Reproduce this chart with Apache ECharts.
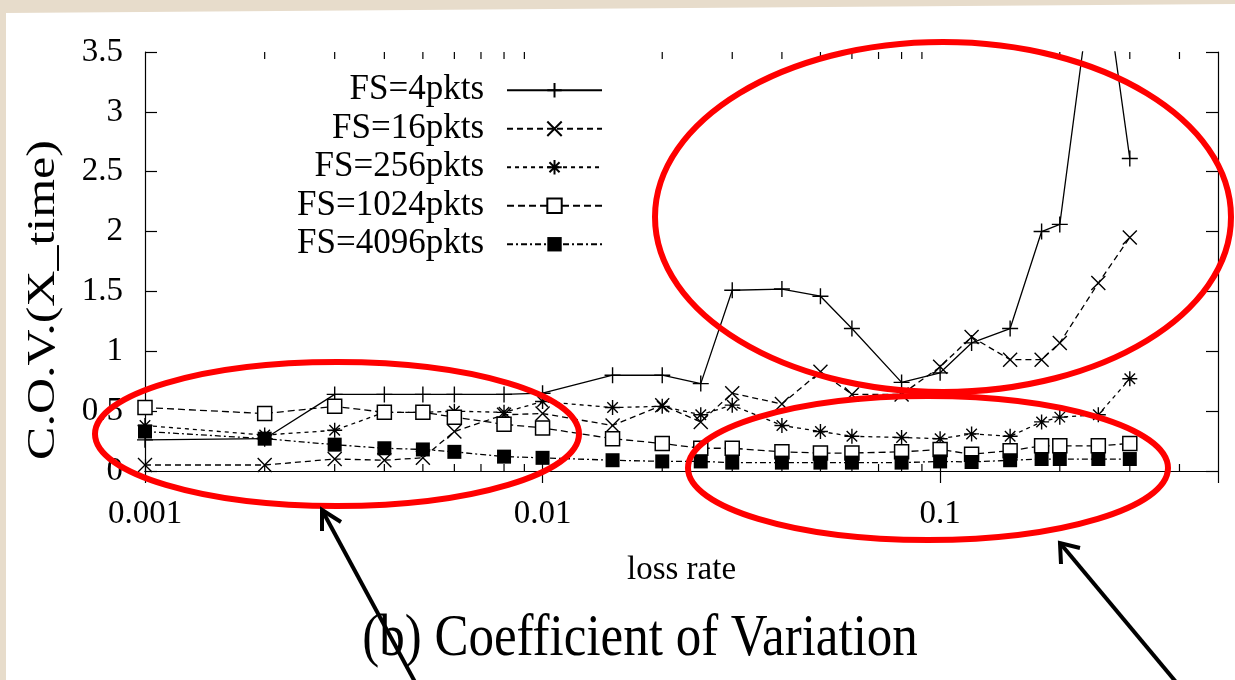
<!DOCTYPE html>
<html>
<head>
<meta charset="utf-8">
<script src="https://cdn.jsdelivr.net/npm/echarts@6/dist/echarts.min.js"></script>
<style>
  html, body { margin: 0; padding: 0; background: #e7dccb; }
  #chart { width: 1235px; height: 680px; }
</style>
</head>
<body>
<div id="chart"></div>
<script>
// Loss rates sampled on the x axis (log scale)
const lossRates = [0.001, 0.002, 0.003, 0.004, 0.005, 0.006, 0.008, 0.01, 0.015, 0.02, 0.025,
                   0.03, 0.04, 0.05, 0.06, 0.08, 0.1, 0.12, 0.15, 0.18, 0.2, 0.25, 0.3];

// Coefficient of variation of X_time for each flow size
const fs4    = [0.26, 0.27, 0.64, 0.64, 0.64, 0.64, 0.64, 0.65, 0.80, 0.80, 0.73,
                1.51, 1.52, 1.46, 1.19, 0.74, 0.82, 1.07, 1.19, 2.00, 2.06, 4.50, 2.61];
const fs16   = [0.05, 0.05, 0.10, 0.09, 0.11, 0.33, 0.47, 0.48, 0.38, 0.55, 0.41,
                0.65, 0.56, 0.83, 0.64, 0.64, 0.87, 1.12, 0.93, 0.93, 1.07, 1.57, 1.95];
const fs256  = [0.38, 0.30, 0.34, 0.49, 0.49, 0.50, 0.49, 0.58, 0.53, 0.54, 0.47,
                0.55, 0.38, 0.33, 0.29, 0.28, 0.27, 0.31, 0.29, 0.41, 0.45, 0.47, 0.77];
const fs1024 = [0.53, 0.48, 0.54, 0.49, 0.49, 0.45, 0.39, 0.36, 0.27, 0.23, 0.19,
                0.19, 0.16, 0.15, 0.15, 0.16, 0.18, 0.14, 0.17, 0.21, 0.21, 0.21, 0.23];
const fs4096 = [0.33, 0.27, 0.22, 0.19, 0.18, 0.16, 0.12, 0.11, 0.09, 0.08, 0.08,
                0.07, 0.07, 0.07, 0.07, 0.07, 0.08, 0.075, 0.09, 0.10, 0.10, 0.10, 0.10];

const seriesNames = ['FS=4pkts', 'FS=16pkts', 'FS=256pkts', 'FS=1024pkts', 'FS=4096pkts'];

// Axis ticks
const xMajorTicks = [0.001, 0.01, 0.1];
const xTickLabels = ['0.001', '0.01', '0.1'];
const xMinorTicks = [0.002, 0.003, 0.004, 0.005, 0.006, 0.007, 0.008, 0.009,
                     0.02, 0.03, 0.04, 0.05, 0.06, 0.07, 0.08, 0.09,
                     0.2, 0.3, 0.4];
const yTickLabels = ['0', '0.5', '1', '1.5', '2', '2.5', '3', '3.5'];

const SERIF = '"Liberation Serif", "DejaVu Serif", serif';

// Point shapes drawn as strokes
const PLUS = 'path://M0,5L10,5M5,0L5,10';
const CROSS = 'path://M0,0L10,10M10,0L0,10';
const STAR = 'path://M0,5L10,5M5,0L5,10M1.5,1.5L8.5,8.5M8.5,1.5L1.5,8.5';

function pairs(ys) { return lossRates.map((x, i) => [x, ys[i]]); }

function xLabel(v) {
  for (let i = 0; i < xMajorTicks.length; i++) {
    if (Math.abs(Math.log10(v) - Math.log10(xMajorTicks[i])) < 1e-6) return xTickLabels[i];
  }
  return '';
}
function yLabel(v) {
  const idx = Math.round(v / 0.5);
  return Math.abs(v - idx * 0.5) < 1e-6 && yTickLabels[idx] !== undefined ? yTickLabels[idx] : '';
}

function lineSeries(name, ys, symbol, size, lineType, itemStyle) {
  return {
    name, type: 'line', data: pairs(ys),
    symbol, symbolSize: size, showSymbol: true,
    lineStyle: { color: '#000', width: 1.3, type: lineType },
    itemStyle: Object.assign({ color: '#000', borderColor: '#000', borderWidth: 1.4 }, itemStyle || {}),
    emphasis: { disabled: true },
    clip: true, z: 2
  };
}

const chart = echarts.init(document.getElementById('chart'), null, { renderer: 'canvas' });

const option = {
  animation: false,
  backgroundColor: '#e7dccb',
  grid: { left: 145, top: 52, right: 17, bottom: 209, containLabel: false },
  xAxis: [{
    type: 'log', logBase: 10, min: 0.001, max: 0.5,
    name: 'loss rate', nameLocation: 'middle', nameGap: 83,
    nameTextStyle: { fontFamily: SERIF, fontSize: 33, color: '#000' },
    axisLine: { show: true, lineStyle: { color: '#000', width: 1.2 } },
    axisTick: { show: true, inside: true, length: 12, lineStyle: { color: '#000', width: 1.2 } },
    axisLabel: { show: true, margin: 27, formatter: xLabel, fontFamily: SERIF, fontSize: 33, color: '#000',
                 showMaxLabel: false },
    splitLine: { show: false }
  }, {
    type: 'log', logBase: 10, min: 0.001, max: 0.5, position: 'top',
    axisLine: { show: true, lineStyle: { color: '#000', width: 1.2 } },
    axisTick: { show: true, inside: true, length: 12, lineStyle: { color: '#000', width: 1.2 } },
    axisLabel: { show: false },
    splitLine: { show: false }
  }],
  yAxis: [{
    type: 'value', min: 0, max: 3.5, interval: 0.5,
    axisLine: { show: true, lineStyle: { color: '#000', width: 1.2 } },
    axisTick: { show: true, inside: true, length: 12, lineStyle: { color: '#000', width: 1.2 } },
    axisLabel: { margin: 22, formatter: yLabel, fontFamily: SERIF, fontSize: 33, color: '#000' },
    splitLine: { show: false }
  }, {
    type: 'value', min: 0, max: 3.5, interval: 0.5, position: 'right',
    axisLine: { show: true, lineStyle: { color: '#000', width: 1.2 } },
    axisTick: { show: true, inside: true, length: 12, lineStyle: { color: '#000', width: 1.2 } },
    axisLabel: { show: false },
    splitLine: { show: false }
  }],
  legend: {
    data: seriesNames,
    orient: 'vertical', align: 'right',
    left: 292, top: 66,
    itemWidth: 95, itemHeight: 18, itemGap: 0,
    selectedMode: false,
    textStyle: { fontFamily: SERIF, fontSize: 35, color: '#000', lineHeight: 38.5, padding: [0, 18, 0, 0] }
  },
  series: [
    lineSeries(seriesNames[0], fs4, PLUS, 16, 'solid'),
    lineSeries(seriesNames[1], fs16, CROSS, 14, [6, 4]),
    lineSeries(seriesNames[2], fs256, STAR, 15, [4, 4]),
    lineSeries(seriesNames[3], fs1024, 'rect', 14, [7, 4], { color: '#fff', borderColor: '#000', borderWidth: 1.5 }),
    lineSeries(seriesNames[4], fs4096, 'rect', 14, [6, 3, 2, 3], { color: '#000', borderWidth: 0 }),
    {
      // minor ticks of the log axis, bottom and top edges
      type: 'custom', name: 'minorTicks', silent: true, z: 3,
      data: xMinorTicks.map(v => [v, 0]),
      renderItem(params, api) {
        const p = api.coord([api.value(0), 0]);
        const cs = params.coordSys;
        const bottom = cs.y + cs.height;
        return {
          type: 'group',
          children: [
            { type: 'line', shape: { x1: p[0], y1: bottom, x2: p[0], y2: bottom - 7 },
              style: { stroke: '#000', lineWidth: 1.2 } },
            { type: 'line', shape: { x1: p[0], y1: cs.y, x2: p[0], y2: cs.y + 7 },
              style: { stroke: '#000', lineWidth: 1.2 } }
          ]
        };
      }
    }
  ],
  graphic: [
    {
      // white page over the textured backdrop
      type: 'polygon', z: -10, silent: true,
      shape: { points: [[6, 13], [1235, 4], [1235, 680], [6, 680]] },
      style: { fill: '#ffffff' }
    },
    {
      // y axis title, set in a tall narrow face
      type: 'text', silent: true, x: 43, y: 300, rotation: Math.PI / 2, scaleX: 1.25, scaleY: 1,
      style: { text: 'C.O.V.(X_time)', font: '40px ' + SERIF, fill: '#000',
               align: 'center', verticalAlign: 'middle' }
    },
    {
      type: 'text', silent: true, x: 640, y: 640, scaleX: 1, scaleY: 1.15,
      style: { text: '(b) Coefficient of Variation', font: '51px ' + SERIF, fill: '#000',
               align: 'center', verticalAlign: 'middle' }
    },
    // highlight ellipses
    { type: 'ellipse', silent: true, z: 100,
      shape: { cx: 943, cy: 217, rx: 288, ry: 175 },
      style: { fill: 'none', stroke: '#ff0000', lineWidth: 6 } },
    { type: 'ellipse', silent: true, z: 100,
      shape: { cx: 337, cy: 434, rx: 242, ry: 72 },
      style: { fill: 'none', stroke: '#ff0000', lineWidth: 6 } },
    { type: 'ellipse', silent: true, z: 100,
      shape: { cx: 928, cy: 468, rx: 240, ry: 72 },
      style: { fill: 'none', stroke: '#ff0000', lineWidth: 6 } },
    // arrows pointing at the lower ellipses
    { type: 'polyline', silent: true, z: 100,
      shape: { points: [[415, 682], [322, 510]] },
      style: { stroke: '#000', lineWidth: 4, fill: 'none' } },
    { type: 'polyline', silent: true, z: 100,
      shape: { points: [[322, 531], [322, 510], [341, 522]] },
      style: { stroke: '#000', lineWidth: 4, fill: 'none', lineJoin: 'miter' } },
    { type: 'polyline', silent: true, z: 100,
      shape: { points: [[1176, 682], [1060, 543]] },
      style: { stroke: '#000', lineWidth: 4, fill: 'none' } },
    { type: 'polyline', silent: true, z: 100,
      shape: { points: [[1061, 564], [1060, 543], [1080, 548]] },
      style: { stroke: '#000', lineWidth: 4, fill: 'none', lineJoin: 'miter' } }
  ]
};

chart.setOption(option);
</script>
</body>
</html>
